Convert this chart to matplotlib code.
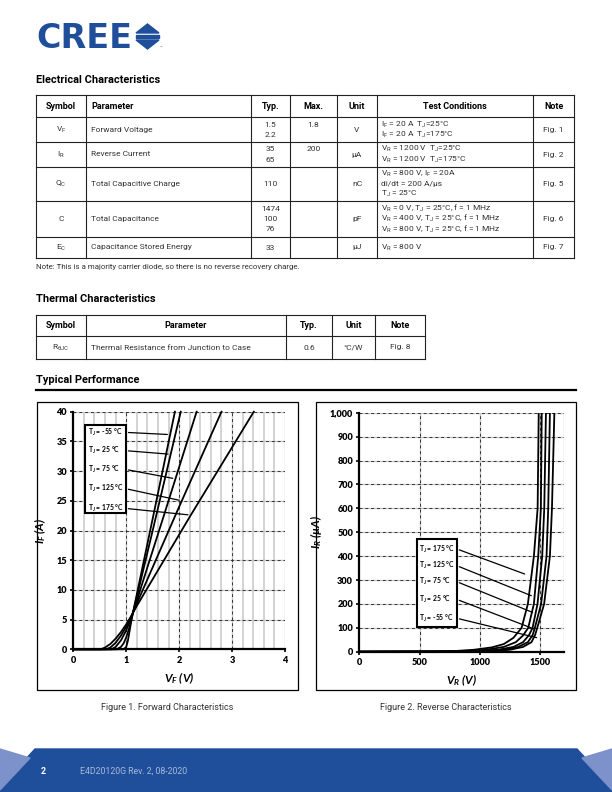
import matplotlib
matplotlib.use("Agg")
import matplotlib.pyplot as plt
from matplotlib.patches import Polygon, Rectangle
import numpy as np

plt.rcParams['font.family'] = ['Roboto', 'DejaVu Sans']
plt.rcParams['mathtext.default'] = 'regular'

W, H = 612, 792

# --- Electrical characteristics table ---
elec_headers = ["Symbol", "Parameter", "Typ.", "Max.", "Unit", "Test Conditions", "Note"]
elec_symbols = ["V$_F$", "I$_R$", "Q$_C$", "C", "E$_C$"]
elec_params = ["Forward Voltage", "Reverse Current", "Total Capacitive Charge",
               "Total Capacitance", "Capacitance Stored Energy"]
elec_typ = [["1.5", "2.2"], ["35", "65"], ["110"], ["1474", "100", "76"], ["33"]]
elec_max = ["1.8", "200", "", "", ""]
elec_unit = ["V", "µA", "nC", "pF", "µJ"]
elec_cond = [["I$_F$ = 20 A  T$_J$=25°C", "I$_F$ = 20 A  T$_J$=175°C"],
             ["V$_R$ = 1200 V  T$_J$=25°C", "V$_R$ = 1200 V  T$_J$=175°C"],
             ["V$_R$ = 800 V, I$_F$ = 20A", "di/dt = 200 A/µs", "T$_J$ = 25°C"],
             ["V$_R$ = 0 V, T$_J$ = 25°C, f = 1 MHz", "V$_R$ = 400 V, T$_J$ = 25°C, f = 1 MHz",
              "V$_R$ = 800 V, T$_J$ = 25°C, f = 1 MHz"],
             ["V$_R$ = 800 V"]]
elec_note = ["Fig. 1", "Fig. 2", "Fig. 5", "Fig. 6", "Fig. 7"]

# --- Thermal table ---
therm_headers = ["Symbol", "Parameter", "Typ.", "Unit", "Note"]
therm_row = ["R$_{θJC}$", "Thermal Resistance from Junction to Case", "0.6", "°C/W", "Fig. 8"]

# --- Figure 1: forward characteristics (V_F in V, I_F in A) ---
fwd_labels = ["-55", "25", "75", "125", "175"]
fwd_v = [[0, 0.95, 1.0, 1.03, 1.06, 1.1, 1.5, 1.92],
         [0, 0.82, 0.9, 0.95, 1.0, 1.05, 1.1, 1.5, 2.03],
         [0, 0.72, 0.8, 0.9, 1.0, 1.1, 1.2, 1.7, 2.33],
         [0, 0.62, 0.7, 0.8, 0.9, 1.0, 1.1, 1.2, 2.0, 2.8],
         [0, 0.52, 0.6, 0.7, 0.8, 0.9, 1.0, 1.1, 1.2, 2.2, 3.41]]
fwd_i = [[0, 0, 0.4, 1.4, 2.9, 5.0, 22, 40],
         [0, 0, 0.4, 1.0, 2.0, 3.4, 5.1, 20, 40],
         [0, 0, 0.4, 1.5, 3.2, 5.4, 8.2, 22.2, 40],
         [0, 0, 0.3, 1.1, 2.3, 3.8, 5.6, 7.7, 24, 40],
         [0, 0, 0.3, 0.9, 1.8, 2.9, 4.2, 5.7, 7.3, 22.3, 40]]
fwd_tip_v = [1.83, 1.84, 1.93, 2.05, 2.22]

# --- Figure 2: reverse characteristics (V_R in V, I_R in uA) ---
rev_labels = ["175", "125", "75", "25", "-55"]
rev_v = [[0, 600, 800, 950, 1100, 1200, 1280, 1348, 1400, 1450, 1481, 1490],
         [0, 700, 900, 1050, 1200, 1300, 1360, 1403, 1450, 1486, 1508, 1515],
         [0, 800, 1000, 1150, 1280, 1360, 1410, 1439, 1480, 1519, 1536, 1550],
         [0, 850, 1050, 1200, 1320, 1400, 1440, 1458, 1510, 1555, 1569, 1583],
         [0, 900, 1100, 1250, 1360, 1430, 1460, 1478, 1535, 1583, 1600, 1620]]
rev_i = [[0, 1, 3, 8, 18, 32, 58, 100, 200, 400, 600, 1000],
         [0, 1, 3, 8, 20, 40, 68, 100, 200, 400, 600, 1000],
         [0, 1, 3, 8, 20, 40, 70, 100, 200, 400, 600, 1000],
         [0, 1, 3, 8, 20, 40, 70, 100, 200, 400, 600, 1000],
         [0, 1, 3, 8, 20, 40, 70, 100, 200, 400, 600, 1000]]
rev_tip = [(1395, 321), (1450, 230), (1461, 160), (1473, 91), (1495, 56)]
rev_yticks = [0, 100, 200, 300, 400, 500, 600, 700, 800, 900, 1000]
rev_yticklabels = ["0", "100", "200", "300", "400", "500", "600", "700", "800", "900", "1,000"]

CREE_BLUE = "#1f4f9a"
TXT = "#333333"
LINE = "#222222"
BODY = 6.0
HEAD = 6.5


def rect(x0, y0, x1, y1):
    return [x0 / W, 1 - y1 / H, (x1 - x0) / W, (y1 - y0) / H]


fig = plt.figure(figsize=(W / 100, H / 100), dpi=100)
page = fig.add_axes([0, 0, 1, 1], zorder=0)
page.set_xlim(0, W)
page.set_ylim(H, 0)
page.axis('off')

# --- Logo ---
page.text(36, 38, "CREE", fontsize=24, fontweight='heavy', color=CREE_BLUE,
          family=['DejaVu Sans'], va='center', ha='left')
page.add_patch(Polygon([[136, 33], [147.5, 24], [159, 33]], closed=True, color=CREE_BLUE))
page.add_patch(Rectangle((136, 35), 23, 2.5, color=CREE_BLUE))
page.add_patch(Polygon([[136, 40], [147.5, 49], [159, 40]], closed=True, color=CREE_BLUE))
page.text(160, 48, "™", fontsize=3, color=CREE_BLUE, va='center')

# --- Section headings ---
page.text(36, 80, "Electrical Characteristics", fontsize=7.9, fontweight='bold', va='center')
page.text(36, 299, "Thermal Characteristics", fontsize=7.9, fontweight='bold', va='center')
page.text(36, 380, "Typical Performance", fontsize=7.9, fontweight='bold', va='center')
page.plot([36, 576], [390, 390], color='black', lw=1.6)

# --- Electrical table ---
ecols = [36, 86, 251, 290, 336.7, 377.3, 533.3, 574]
erows = [95, 117.3, 142.3, 166.7, 201, 236.7, 258.3]
for x in ecols:
    page.plot([x, x], [erows[0], erows[-1]], color=LINE, lw=0.8)
for y in erows:
    page.plot([ecols[0], ecols[-1]], [y, y], color=LINE, lw=0.8)

hdr_align = ['center', 'left', 'center', 'center', 'center', 'center', 'center']
hy = (erows[0] + erows[1]) / 2
for j, h in enumerate(elec_headers):
    if hdr_align[j] == 'left':
        hx = ecols[j] + 5
    else:
        hx = (ecols[j] + ecols[j + 1]) / 2
    page.text(hx, hy, h, fontsize=HEAD, fontweight='bold', ha=hdr_align[j], va='center')

lh = 10.3
for i in range(len(elec_params)):
    yc = (erows[i + 1] + erows[i + 2]) / 2
    page.text((ecols[0] + ecols[1]) / 2, yc, elec_symbols[i], fontsize=BODY, color=TXT,
              ha='center', va='center')
    page.text(ecols[1] + 5, yc, elec_params[i], fontsize=BODY, color=TXT, va='center')
    n = len(elec_typ[i])
    y0 = yc - (n - 1) * lh / 2
    for k, t in enumerate(elec_typ[i]):
        page.text((ecols[2] + ecols[3]) / 2, y0 + k * lh, t, fontsize=BODY, color=TXT,
                  ha='center', va='center')
    if elec_max[i]:
        page.text((ecols[3] + ecols[4]) / 2, y0, elec_max[i], fontsize=BODY, color=TXT,
                  ha='center', va='center')
    page.text((ecols[4] + ecols[5]) / 2, yc, elec_unit[i], fontsize=BODY, color=TXT,
              ha='center', va='center')
    n = len(elec_cond[i])
    y0c = yc - (n - 1) * lh / 2
    for k, t in enumerate(elec_cond[i]):
        page.text(ecols[5] + 4, y0c + k * lh, t, fontsize=BODY, color=TXT, va='center')
    page.text((ecols[6] + ecols[7]) / 2, yc, elec_note[i], fontsize=BODY, color=TXT,
              ha='center', va='center')

page.text(36, 267, "Note: This is a majority carrier diode, so there is no reverse recovery charge.",
          fontsize=5.65, color=TXT, va='center')

# --- Thermal table ---
tcols = [36, 86, 286, 332, 375, 425]
trows = [315, 336, 359]
for x in tcols:
    page.plot([x, x], [trows[0], trows[-1]], color=LINE, lw=0.8)
for y in trows:
    page.plot([tcols[0], tcols[-1]], [y, y], color=LINE, lw=0.8)
for j, h in enumerate(therm_headers):
    page.text((tcols[j] + tcols[j + 1]) / 2, (trows[0] + trows[1]) / 2, h, fontsize=HEAD,
              fontweight='bold', ha='center', va='center')
for j, t in enumerate(therm_row):
    yc = (trows[1] + trows[2]) / 2
    if j == 1:
        page.text(tcols[1] + 5, yc, t, fontsize=BODY, color=TXT, va='center')
    else:
        page.text((tcols[j] + tcols[j + 1]) / 2, yc, t, fontsize=BODY, color=TXT,
                  ha='center', va='center')

# --- Chart frames and captions ---
page.add_patch(Rectangle((37, 402), 261, 288, fill=False, ec='black', lw=0.9))
page.add_patch(Rectangle((316, 402), 260, 288, fill=False, ec='black', lw=0.9))
page.text(167, 708, "Figure 1. Forward Characteristics", fontsize=6.5, color=TXT,
          ha='center', va='center')
page.text(446, 708, "Figure 2. Reverse Characteristics", fontsize=6.5, color=TXT,
          ha='center', va='center')

# --- Footer ---
page.add_patch(Polygon([[35, 749], [577, 749], [612, 787], [612, 792], [0, 792], [0, 787]],
                       closed=True, color=CREE_BLUE))
page.add_patch(Polygon([[0, 749], [30, 758], [0, 790]], closed=True, color='#7d91ca'))
page.add_patch(Polygon([[612, 749], [582, 758], [612, 790]], closed=True, color='#7d91ca'))
page.text(41, 771, "2", fontsize=6.5, fontweight='bold', color='white', va='center')
page.text(80, 771, "E4D20120G Rev. 2, 08-2020", fontsize=6.3, color='#a9b8da', va='center')

CHART_FONT = ['Lato', 'DejaVu Sans']


def style_axes(ax):
    for s in ['top', 'right']:
        ax.spines[s].set_visible(False)
    for s in ['left', 'bottom']:
        ax.spines[s].set_linewidth(1.6)
        ax.spines[s].set_zorder(5)
    ax.tick_params(length=2.5, width=1.2, labelsize=6.6, pad=2)
    for lab in ax.get_xticklabels() + ax.get_yticklabels():
        lab.set_family(CHART_FONT)
        lab.set_fontweight('heavy')


def dashed_line(ax, x, y):
    ax.plot(x, y, color='#c8c8c8', lw=1.0, zorder=1)
    ax.plot(x, y, color='#333333', lw=0.7, ls=(0, (3, 3)), zorder=1.1)


# --- Figure 1 ---
ax1 = fig.add_axes(rect(73.3, 411.7, 285, 649.3), zorder=2)
ax1.set_xlim(0, 4)
ax1.set_ylim(0, 40)
for v in np.arange(0.2, 4.0, 0.2):
    if abs(v - round(v)) > 1e-6:
        ax1.axvline(v, color='#d0d0d0', lw=1.3, zorder=0.5)
for v in [1, 2, 3, 4]:
    dashed_line(ax1, [v, v], [0, 40])
for v in range(5, 45, 5):
    dashed_line(ax1, [0, 4], [v, v])
for vv, ii in zip(fwd_v, fwd_i):
    ax1.plot(vv, ii, color='black', lw=1.3, zorder=3, clip_on=False)
ax1.set_xticks([0, 1, 2, 3, 4])
ax1.set_yticks(range(0, 45, 5))
style_axes(ax1)
ax1.set_xlabel("V$_F$ (V)", fontsize=8.5, fontweight='bold', fontstyle='italic',
               family=CHART_FONT, labelpad=4)
ax1.set_ylabel("I$_F$ (A)", fontsize=8.5, fontweight='bold', fontstyle='italic',
               family=CHART_FONT, labelpad=6)

ax1.add_patch(Rectangle((0.055, 0.572), 0.1925, 0.372, transform=ax1.transAxes,
                        fill=True, fc='white', ec='black', lw=1.5, zorder=6))
fwd_label_y = [0.913, 0.836, 0.757, 0.676, 0.593]
for k, lab in enumerate(fwd_labels):
    ax1.text(0.068, fwd_label_y[k], "T$_J$ = " + lab + " °C", transform=ax1.transAxes,
             fontsize=4.9, fontweight='bold', family=CHART_FONT, va='center', zorder=7)
    tip_i = np.interp(fwd_tip_v[k], fwd_v[k], fwd_i[k])
    ax1.annotate("", xy=(fwd_tip_v[k], tip_i), xycoords='data',
                 xytext=(0.2475, fwd_label_y[k]), textcoords='axes fraction',
                 arrowprops=dict(arrowstyle='-', color='black', lw=0.9), zorder=7)

# --- Figure 2 ---
ax2 = fig.add_axes(rect(359.3, 412.7, 564, 651.7), zorder=2)
ax2.set_xlim(0, 1700)
ax2.set_ylim(0, 1000)
for v in [500, 1000, 1500, 1700]:
    dashed_line(ax2, [v, v], [0, 1000])
for v in rev_yticks[1:]:
    dashed_line(ax2, [0, 1700], [v, v])
for vv, ii in zip(rev_v, rev_i):
    ax2.plot(vv, ii, color='black', lw=1.3, zorder=3)
ax2.set_xticks([0, 500, 1000, 1500])
ax2.set_yticks(rev_yticks)
ax2.set_yticklabels(rev_yticklabels)
style_axes(ax2)
ax2.set_xlabel("V$_R$ (V)", fontsize=8.5, fontweight='bold', fontstyle='italic',
               family=CHART_FONT, labelpad=4)
ax2.set_ylabel("I$_R$ (µA)", fontsize=8.5, fontweight='bold', fontstyle='italic',
               family=CHART_FONT, labelpad=4)

ax2.add_patch(Rectangle((0.28, 0.105), 0.196, 0.365, transform=ax2.transAxes,
                        fill=True, fc='white', ec='black', lw=1.5, zorder=6))
rev_label_y = [0.43, 0.36, 0.293, 0.219, 0.14]
for k, lab in enumerate(rev_labels):
    ax2.text(0.293, rev_label_y[k], "T$_J$ = " + lab + " °C", transform=ax2.transAxes,
             fontsize=4.9, fontweight='bold', family=CHART_FONT, va='center', zorder=7)
    ax2.annotate("", xy=rev_tip[k], xycoords='data',
                 xytext=(0.476, rev_label_y[k]), textcoords='axes fraction',
                 arrowprops=dict(arrowstyle='-', color='black', lw=0.9), zorder=7)

fig.savefig("out.png", dpi=100)
